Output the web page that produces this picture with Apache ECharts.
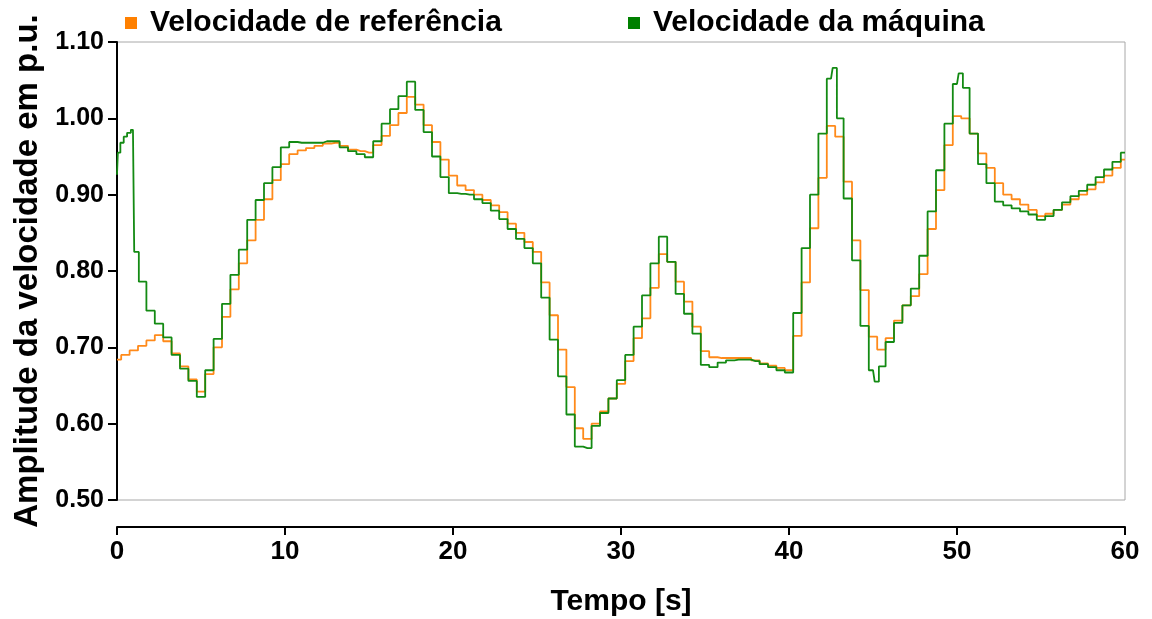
<!DOCTYPE html>
<html>
<head>
<meta charset="utf-8">
<script src="https://cdn.jsdelivr.net/npm/echarts@6/dist/echarts.min.js"></script>
<style>
html,body{margin:0;padding:0;background:#fff;}
#chart{width:1152px;height:619px;}
</style>
</head>
<body>
<div id="chart"></div>
<script>
// ---- data ----
const seriesNames = ['Velocidade de referência', 'Velocidade da máquina'];
const xTickLabels = [0, 10, 20, 30, 40, 50, 60];
const yTickLabels = [0.50, 0.60, 0.70, 0.80, 0.90, 1.00, 1.10];

const refTime = [0,0.5,1,1.5,2,2.5,3,3.5,4,4.5,5,5.5,6,6.5,7,7.5,8,8.5,9,9.5,10,10.5,11,11.5,12,12.5,13,13.5,14,14.5,15,15.5,16,16.5,17,17.5,18,18.5,19,19.5,20,20.5,21,21.5,22,22.5,23,23.5,24,24.5,25,25.5,26,26.5,27,27.5,28,28.5,29,29.5,30,30.5,31,31.5,32,32.5,33,33.5,34,34.5,35,35.5,36,36.5,37,37.5,38,38.5,39,39.5,40,40.5,41,41.5,42,42.5,43,43.5,44,44.5,45,45.5,46,46.5,47,47.5,48,48.5,49,49.5,50,50.5,51,51.5,52,52.5,53,53.5,54,54.5,55,55.5,56,56.5,57,57.5,58,58.5,59,59.5,60];
const refSpeed = [0.684,0.690,0.696,0.702,0.709,0.716,0.708,0.692,0.675,0.658,0.642,0.665,0.700,0.740,0.776,0.810,0.840,0.867,0.894,0.919,0.940,0.953,0.958,0.961,0.964,0.967,0.968,0.964,0.959,0.957,0.955,0.965,0.977,0.991,1.007,1.028,1.018,0.991,0.969,0.946,0.925,0.912,0.906,0.900,0.893,0.886,0.877,0.862,0.850,0.838,0.825,0.785,0.742,0.697,0.648,0.594,0.580,0.600,0.616,0.633,0.652,0.682,0.712,0.738,0.778,0.822,0.812,0.786,0.760,0.727,0.695,0.687,0.686,0.686,0.686,0.686,0.683,0.679,0.676,0.673,0.670,0.715,0.785,0.856,0.922,0.990,0.976,0.917,0.840,0.775,0.714,0.697,0.712,0.735,0.755,0.767,0.796,0.855,0.906,0.965,1.003,1.000,0.980,0.954,0.935,0.915,0.900,0.894,0.887,0.880,0.872,0.875,0.880,0.887,0.894,0.900,0.907,0.916,0.925,0.935,0.946];

const machTime = [0,0.1,0.3,0.5,0.7,0.95,1.1,1.5,2,2.5,3,3.5,4,4.5,5,5.5,6,6.5,7,7.5,8,8.5,9,9.5,10,10.5,11,11.5,12,12.5,13,13.5,14,14.5,15,15.5,16,16.5,17,17.5,18,18.5,19,19.5,20,20.5,21,21.5,22,22.5,23,23.5,24,24.5,25,25.5,26,26.5,27,27.5,28,28.5,29,29.5,30,30.5,31,31.5,32,32.5,33,33.5,34,34.5,35,35.5,36,36.5,37,37.5,38,38.5,39,39.5,40,40.5,41,41.5,42,42.5,42.7,43,43.5,44,44.5,45,45.2,45.5,46,46.5,47,47.5,48,48.5,49,49.5,50,50.2,50.5,51,51.5,52,52.5,53,53.5,54,54.5,55,55.5,56,56.5,57,57.5,58,58.5,59,59.5,60];
const machSpeed = [0.926,0.955,0.968,0.976,0.981,0.985,0.825,0.786,0.748,0.731,0.713,0.690,0.672,0.656,0.635,0.670,0.711,0.757,0.795,0.828,0.867,0.893,0.915,0.936,0.962,0.969,0.968,0.968,0.968,0.970,0.970,0.962,0.957,0.953,0.949,0.970,0.993,1.012,1.029,1.048,1.011,0.982,0.950,0.923,0.902,0.901,0.900,0.894,0.889,0.879,0.868,0.855,0.842,0.830,0.810,0.765,0.710,0.662,0.612,0.570,0.568,0.597,0.614,0.633,0.657,0.690,0.727,0.768,0.810,0.845,0.812,0.770,0.744,0.718,0.677,0.674,0.680,0.683,0.684,0.684,0.682,0.678,0.674,0.670,0.667,0.745,0.830,0.900,0.980,1.052,1.066,1.000,0.895,0.814,0.728,0.670,0.655,0.675,0.707,0.732,0.755,0.777,0.820,0.878,0.932,0.993,1.045,1.059,1.040,0.980,0.940,0.915,0.891,0.886,0.882,0.878,0.874,0.867,0.872,0.880,0.890,0.898,0.905,0.913,0.923,0.933,0.943,0.955];

// ---- chart ----
const FONT = "'Liberation Sans', Arial, sans-serif";
const refPairs = refTime.map((t, i) => [t, refSpeed[i]]);
const machPairs = machTime.map((t, i) => [t, machSpeed[i]]);

const chart = echarts.init(document.getElementById('chart'), null, {renderer: 'canvas'});
chart.setOption({
  animation: false,
  backgroundColor: '#ffffff',
  textStyle: {fontFamily: FONT},
  legend: [
    {
      left: 120, top: 3,
      data: [seriesNames[0]],
      icon: 'rect', itemWidth: 12, itemHeight: 12,
      textStyle: {fontFamily: FONT, fontWeight: 'bold', fontSize: 30, color: '#000', padding: [0, 0, 0, 8]}
    },
    {
      left: 623, top: 3,
      data: [seriesNames[1]],
      icon: 'rect', itemWidth: 12, itemHeight: 12,
      textStyle: {fontFamily: FONT, fontWeight: 'bold', fontSize: 30, color: '#000', padding: [0, 0, 0, 8]}
    }
  ],
  grid: {
    left: 117, right: 27, top: 42, bottom: 119,
    containLabel: false, outerBoundsMode: 'none',
    show: true, borderColor: '#a8a8a8', borderWidth: 1, backgroundColor: 'transparent'
  },
  xAxis: {
    type: 'value', min: 0, max: 60, interval: 10,
    offset: 27,
    name: 'Tempo [s]', nameLocation: 'middle', nameGap: 60,
    nameTextStyle: {fontFamily: FONT, fontWeight: 'bold', fontSize: 30, color: '#000'},
    axisLine: {show: true, onZero: false, lineStyle: {color: '#000', width: 2}},
    axisTick: {show: true, length: 8, lineStyle: {color: '#000', width: 2}},
    axisLabel: {
      margin: 12, fontFamily: FONT, fontWeight: 'bold', fontSize: 26, color: '#000',
      formatter: v => xTickLabels.includes(v) ? String(v) : ''
    },
    splitLine: {show: false}
  },
  yAxis: {
    type: 'value', min: 0.5, max: 1.1, interval: 0.1,
    name: 'Amplitude da velocidade em p.u.', nameLocation: 'middle', nameGap: 70,
    nameTextStyle: {fontFamily: FONT, fontWeight: 'bold', fontSize: 33, color: '#000'},
    axisLine: {show: true, onZero: false, lineStyle: {color: '#000', width: 2}},
    axisTick: {show: true, length: 9, lineStyle: {color: '#000', width: 2}},
    axisLabel: {
      margin: 13, fontFamily: FONT, fontWeight: 'bold', fontSize: 25, color: '#000',
      formatter: v => {
        const m = yTickLabels.find(t => Math.abs(t - v) < 1e-6);
        return m !== undefined ? m.toFixed(2) : '';
      }
    },
    splitLine: {show: false}
  },
  series: [
    {
      name: seriesNames[0], type: 'line', step: 'middle', data: refPairs,
      showSymbol: false, symbol: 'none',
      color: '#ff8000',
      lineStyle: {color: '#ff8a1a', width: 1.8}
    },
    {
      name: seriesNames[1], type: 'line', step: 'middle', data: machPairs,
      showSymbol: false, symbol: 'none',
      color: '#008000',
      lineStyle: {color: '#138a13', width: 1.8}
    }
  ]
});
</script>
</body>
</html>
